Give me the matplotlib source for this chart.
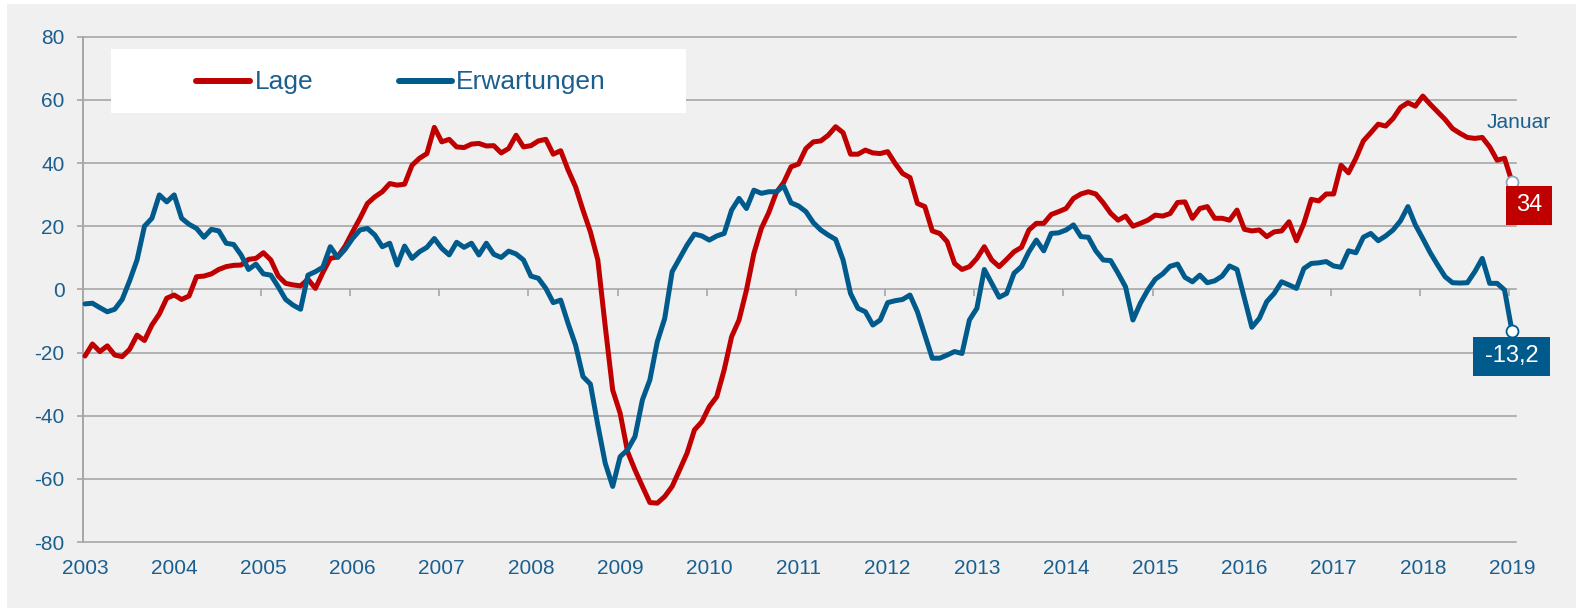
import matplotlib
matplotlib.use('Agg')
import matplotlib.pyplot as plt
from matplotlib.patches import Rectangle
from matplotlib.lines import Line2D
from matplotlib.transforms import IdentityTransform
import numpy as np

# ---------------- data (monthly, Jan 2003 .. Jan 2019) ----------------
years = list(range(2003, 2020))
series_names = ["Lage", "Erwartungen"]

lage = [
    -21.1, -17.3, -19.7, -17.9, -20.8, -21.3, -19.0, -14.5, -16.2, -11.3, -7.8, -2.8,   # 2003
    -1.8, -3.2, -2.1, 4.0, 4.2, 4.9, 6.3, 7.2, 7.6, 7.7, 9.5, 9.8,                      # 2004
    11.6, 9.3, 4.2, 1.9, 1.4, 1.1, 3.2, 0.3, 5.3, 9.8, 10.3, 13.7,                       # 2005
    18.2, 22.5, 27.2, 29.3, 30.9, 33.5, 33.0, 33.3, 39.3, 41.5, 43.0, 51.3,              # 2006
    46.7, 47.5, 45.1, 44.9, 46.0, 46.2, 45.4, 45.5, 43.2, 44.6, 48.8, 45.1,              # 2007
    45.5, 47.0, 47.5, 42.8, 43.9, 37.8, 32.5, 25.1, 18.2, 9.3, -11.8, -31.9,             # 2008
    -39.2, -51.4, -57.2, -62.4, -67.5, -67.7, -65.6, -62.4, -57.2, -51.9, -44.5, -41.9,  # 2009
    -37.1, -34.0, -25.5, -15.0, -9.7, -0.2, 11.4, 19.3, 24.3, 30.6, 33.8, 38.8,          # 2010
    39.7, 44.6, 46.7, 47.0, 48.8, 51.5, 49.6, 42.8, 42.8, 44.1, 43.2, 43.0,              # 2011
    43.6, 39.9, 36.7, 35.4, 27.2, 26.2, 18.5, 17.7, 15.1, 8.2, 6.3, 7.2,                 # 2012
    9.8, 13.5, 9.3, 7.2, 9.5, 11.9, 13.3, 18.8, 20.9, 20.9, 23.7, 24.6,                  # 2013
    25.6, 28.8, 30.2, 30.9, 30.2, 27.4, 24.1, 21.9, 23.2, 20.0, 20.9, 21.9,              # 2014
    23.5, 23.2, 24.0, 27.5, 27.7, 22.5, 25.6, 26.2, 22.5, 22.5, 21.9, 25.1,              # 2015
    19.0, 18.5, 18.8, 16.7, 18.2, 18.5, 21.4, 15.4, 20.9, 28.5, 28.0, 30.2,              # 2016
    30.2, 39.3, 36.9, 41.5, 47.0, 49.6, 52.3, 51.7, 54.1, 57.6, 59.1, 58.0,              # 2017
    61.2, 58.6, 56.2, 53.8, 50.9, 49.4, 48.1, 47.8, 48.1, 45.1, 40.9, 41.5,              # 2018
    34.0,                                                                                # Jan 2019
]

erwartungen = [
    -4.6, -4.4, -5.8, -7.1, -6.3, -3.2, 2.7, 9.3, 20.0, 22.5, 29.9, 27.7,                # 2003
    29.9, 22.5, 20.6, 19.3, 16.5, 19.0, 18.5, 14.6, 14.2, 10.9, 6.3, 8.0,                # 2004
    4.9, 4.5, 0.8, -3.2, -5.0, -6.3, 4.5, 5.6, 7.0, 13.5, 10.1, 12.7,                    # 2005
    16.1, 18.8, 19.3, 17.2, 13.5, 14.6, 7.7, 13.7, 9.8, 11.9, 13.3, 16.1,                # 2006
    13.0, 10.9, 14.9, 13.3, 14.6, 10.9, 14.6, 11.1, 10.1, 12.1, 11.2, 9.3,               # 2007
    4.2, 3.5, 0.3, -4.2, -3.4, -10.8, -17.6, -27.6, -30.0, -43.0, -55.1, -62.4,          # 2008
    -53.0, -50.8, -46.6, -35.0, -28.7, -16.6, -9.2, 5.6, 9.8, 14.0, 17.5, 16.9,          # 2009
    15.6, 16.9, 17.7, 25.1, 28.8, 25.6, 31.4, 30.4, 30.9, 30.9, 32.7, 27.4,              # 2010
    26.4, 24.6, 21.1, 18.8, 17.2, 15.8, 9.3, -1.3, -6.0, -7.1, -11.3, -9.7,              # 2011
    -4.2, -3.6, -3.2, -1.8, -7.1, -14.5, -21.8, -21.8, -20.8, -19.7, -20.3, -9.7,        # 2012
    -6.0, 6.3, 1.9, -2.5, -1.3, 5.1, 7.2, 11.9, 15.6, 12.2, 17.7, 17.9,                  # 2013
    18.8, 20.4, 16.7, 16.5, 12.2, 9.3, 9.1, 5.1, 0.8, -9.7, -4.4, -0.2,                  # 2014
    3.2, 4.9, 7.3, 8.0, 3.8, 2.4, 4.5, 2.1, 2.7, 4.2, 7.4, 6.3,                          # 2015
    -2.8, -12.0, -9.2, -3.9, -1.3, 2.4, 1.4, 0.3, 6.6, 8.2, 8.4, 8.8,                    # 2016
    7.4, 7.0, 12.2, 11.6, 16.5, 17.7, 15.4, 16.9, 18.8, 21.7, 26.2, 20.4,                # 2017
    16.1, 11.6, 7.7, 4.0, 2.1, 2.0, 2.1, 5.6, 9.8, 1.9, 1.9, -0.2,                       # 2018
    -13.2,                                                                               # Jan 2019
]

y_ticks = [80, 60, 40, 20, 0, -20, -40, -60, -80]
last_month_label = "Januar"
lage_last_label = "34"
erw_last_label = "-13,2"

# ---------------- style ----------------
W, H, DPI = 1576, 608, 100
RED = '#c00000'
BLUE = '#005a8c'
TXT = '#1b5f8f'
GRID = '#a6a6a6'
BG = '#f0f0f0'

plt.rcParams['font.family'] = ['Liberation Sans', 'DejaVu Sans']
plt.rcParams['axes.unicode_minus'] = False


def fx(px):
    return px / W


def fy(py):
    return 1 - py / H


fig = plt.figure(figsize=(W / DPI, H / DPI), dpi=DPI, facecolor='white')
fig.add_artist(Rectangle((fx(7), 0), 1 - fx(7), fy(4), transform=fig.transFigure,
                         fc=BG, ec='none', zorder=-5))

ax = fig.add_axes([fx(83), fy(542), (1516 - 83) / W, (542 - 36.7) / H])
ax.set_facecolor('none')

x = np.arange(len(lage))
ax.set_xlim(-0.27, len(lage) - 1 + 0.54)
ax.set_ylim(-80, 80)

# grid
ax.set_yticks(y_ticks)
ax.set_yticklabels([str(v) for v in y_ticks])
ax.yaxis.grid(True, color=GRID, lw=1.2)
for gl in ax.get_ygridlines():
    gl.set_clip_on(False)
ax.set_axisbelow(True)
for s in ['top', 'right', 'bottom']:
    ax.spines[s].set_visible(False)
ax.spines['left'].set_color(GRID)
ax.spines['left'].set_linewidth(1.4)

year_idx = [12 * i for i in range(len(years))]
ax.set_xticks(year_idx)
ax.set_xticklabels([str(y) for y in years])
ax.tick_params(axis='x', length=0, pad=12, labelsize=15, labelcolor=TXT)
ax.tick_params(axis='y', length=4.3, width=1.2, color=GRID, pad=9,
               labelsize=15, labelcolor=TXT)

# small year ticks on the zero line
ax.vlines([i - 0.35 for i in year_idx[1:]], -2.0, 0, color=GRID, lw=1.2, zorder=1)

# series
ax.plot(x, lage, color=RED, lw=3.6, solid_joinstyle='round',
        solid_capstyle='round', zorder=3, clip_on=False)
ax.plot(x, erwartungen, color=BLUE, lw=3.6, solid_joinstyle='round',
        solid_capstyle='round', zorder=4, clip_on=False)

# end markers
ax.plot(x[-1], lage[-1], 'o', ms=8.6, mfc='white', mec='#8ea5bc', mew=1.3,
        zorder=6, clip_on=False)
ax.plot(x[-1], erwartungen[-1], 'o', ms=8.6, mfc='white', mec=BLUE, mew=1.3,
        zorder=6, clip_on=False)

# end labels (placed relative to the last data points, display pixels)
ident = IdentityTransform()
px_l, py_l = ax.transData.transform((x[-1], lage[-1]))
bw, bh = 46, 38.7
left, top = px_l - 6, py_l - 4
fig.add_artist(Rectangle((left, top - bh), bw, bh, transform=ident,
                         fc=RED, ec='none', zorder=7))
fig.text(left + bw / 2, top - bh / 2, lage_last_label, transform=ident,
         ha='center', va='center', color='white', fontsize=17, zorder=8)

px_e, py_e = ax.transData.transform((x[-1], erwartungen[-1]))
bw, bh = 77, 38.7
left, top = px_e - bw / 2, py_e - 6
fig.add_artist(Rectangle((left, top - bh), bw, bh, transform=ident,
                         fc=BLUE, ec='none', zorder=7))
fig.text(left + bw / 2, top - bh / 2, erw_last_label, transform=ident,
         ha='center', va='center', color='white', fontsize=17, zorder=8)

fig.text(fx(1518.5), fy(123), last_month_label, ha='center', va='center',
         color=TXT, fontsize=15)

# legend box
fig.add_artist(Rectangle((fx(111), fy(113)), (686 - 111) / W, (113 - 49) / H,
                         transform=fig.transFigure, fc='white', ec='none', zorder=5))
fig.add_artist(Line2D([fx(196), fx(250)], [fy(81), fy(81)], transform=fig.transFigure,
                      color=RED, lw=4.3, solid_capstyle='round', zorder=6))
fig.text(fx(255), fy(89), series_names[0], color=TXT, fontsize=19, va='baseline',
         ha='left', zorder=6)
fig.add_artist(Line2D([fx(399), fx(452)], [fy(81), fy(81)], transform=fig.transFigure,
                      color=BLUE, lw=4.3, solid_capstyle='round', zorder=6))
fig.text(fx(456), fy(89), series_names[1], color=TXT, fontsize=19, va='baseline',
         ha='left', zorder=6)

fig.savefig('out.png', dpi=DPI, facecolor=fig.get_facecolor())
